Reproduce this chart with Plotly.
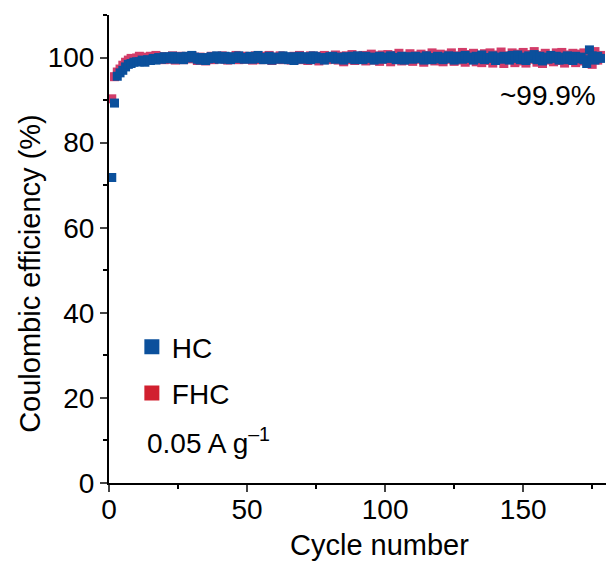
import plotly.graph_objects as go

cycles = list(range(1, 179))

hc = [
    71.8, 89.3, 95.6, 96.4, 97.0, 97.8, 98.4, 98.6, 98.9, 99.0,
    99.0, 99.4, 98.9, 99.5, 99.3, 99.8, 99.4, 100.0, 99.6, 100.2,
    99.7, 100.1, 100.3, 99.6, 99.8, 100.2, 99.5, 100.3, 99.9, 100.5,
    100.1, 99.6, 99.4, 100.0, 99.3, 99.7, 100.2, 99.8, 100.4, 99.6,
    99.9, 100.3, 99.6, 99.5, 100.2, 99.8, 100.4, 100.0, 99.6, 99.9,
    100.3, 99.6, 99.8, 100.5, 100.0, 99.5, 99.9, 100.3, 99.4, 99.8,
    100.1, 99.6, 100.4, 99.8, 99.5, 100.2, 99.3, 99.9, 100.3, 99.6,
    99.8, 100.2, 99.5, 100.4, 100.2, 99.7, 100.0, 99.4, 99.9, 100.2,
    100.3, 99.6, 99.8, 100.1, 99.4, 100.2, 99.8, 100.3, 99.5, 100.4,
    100.0, 99.5, 100.3, 99.8, 100.1, 99.4, 99.9, 100.3, 99.6, 100.1,
    99.8, 100.4, 100.0, 99.5, 99.9, 100.3, 99.4, 99.8, 100.2, 99.6,
    100.3, 99.8, 100.1, 99.4, 100.4, 99.8, 99.5, 100.0, 100.3, 99.7,
    99.5, 100.1, 100.4, 99.8, 99.4, 100.3, 100.0, 99.6, 100.5, 99.8,
    100.1, 99.4, 100.3, 99.7, 100.6, 99.5, 100.0, 99.8, 100.4, 99.3,
    100.1, 99.6, 100.3, 99.8, 99.4, 100.5, 99.8, 100.6, 99.5, 100.1,
    99.3, 100.4, 99.8, 100.7, 99.5, 100.3, 99.2, 100.1, 99.6, 100.5,
    99.8, 100.3, 99.4, 100.1, 99.5, 100.4, 99.8, 99.3, 100.3, 99.7,
    100.1, 99.5, 98.6, 101.8, 100.4, 99.4, 100.3, 99.8,
]

fhc = [
    90.3, 95.5, 96.6, 97.3, 98.2, 98.9, 99.4, 99.8, 99.5, 99.9,
    100.3, 99.5, 100.1, 99.4, 100.3, 99.7, 100.5, 99.8, 100.2, 99.5,
    100.1, 99.6, 100.4, 99.4, 99.9, 100.3, 99.5, 100.1, 99.7, 100.4,
    99.8, 99.3, 100.1, 99.6, 99.2, 99.9, 100.3, 99.5, 100.1, 99.8,
    100.4, 99.6, 99.4, 100.1, 99.8, 100.5, 99.5, 99.9, 100.3, 99.6,
    100.1, 99.4, 100.4, 99.8, 99.5, 100.3, 99.6, 100.5, 99.3, 100.1,
    99.6, 100.4, 99.5, 100.1, 99.8, 99.4, 100.3, 99.6, 100.5, 99.5,
    100.1, 99.3, 100.4, 99.6, 100.3, 99.2, 99.9, 100.5, 99.5, 100.1,
    99.6, 100.6, 99.4, 100.3, 99.0, 100.4, 99.5, 100.7, 99.3, 100.3,
    99.6, 100.5, 99.2, 100.1, 100.8, 99.4, 100.4, 99.1, 100.6, 99.6,
    100.7, 99.0, 100.5, 99.5, 101.0, 99.2, 100.3, 99.4, 100.9, 99.1,
    100.4, 99.6, 100.8, 98.9, 100.5, 99.5, 101.1, 99.2, 100.2, 100.8,
    99.0, 100.6, 99.6, 101.1, 99.1, 100.4, 99.4, 101.2, 98.9, 100.7,
    99.5, 101.0, 99.0, 100.5, 98.8, 100.9, 99.3, 101.1, 98.7, 100.6,
    99.4, 101.3, 98.6, 100.4, 99.5, 101.1, 98.8, 100.8, 99.2, 101.2,
    98.7, 100.7, 99.6, 101.4, 98.9, 100.5, 98.6, 101.0, 99.4, 100.3,
    99.0, 101.1, 99.3, 101.2, 98.7, 100.6, 99.5, 101.0, 98.8, 100.8,
    99.2, 101.1, 99.1, 100.9, 98.4, 101.4, 99.4, 100.5,
]

series_names = ["HC", "FHC"]
marker_colors = ["#0b509c", "#d23c69"]
legend_colors = ["#0b509c", "#d1202f"]

FONT = "Liberation Sans, Arial, sans-serif"

fig = go.Figure()
# FHC below, HC on top
fig.add_trace(go.Scatter(x=cycles, y=fhc, mode="markers", showlegend=False,
                         marker=dict(symbol="square", size=9, color=marker_colors[1])))
fig.add_trace(go.Scatter(x=cycles, y=hc, mode="markers", showlegend=False,
                         marker=dict(symbol="square", size=9, color=marker_colors[0])))
# legend entries
for i, name in enumerate(series_names):
    fig.add_trace(go.Scatter(x=[None], y=[None], mode="markers", name=name,
                             legendgroup=name,
                             marker=dict(symbol="square", size=15, color=legend_colors[i])))

fig.update_layout(
    width=610, height=563,
    margin=dict(l=109, r=4, t=15, b=80),
    paper_bgcolor="white", plot_bgcolor="white",
    font=dict(family=FONT, size=28, color="black"),
    showlegend=True,
    legend=dict(x=0.046, y=0.344, xanchor="left", yanchor="top",
                bgcolor="rgba(0,0,0,0)", font=dict(size=28),
                tracegroupgap=7, traceorder="grouped"),
    xaxis=dict(range=[0, 180], dtick=50, tick0=0, ticks="outside", ticklen=7, tickwidth=2,
               showline=True, linewidth=2, linecolor="black", showgrid=False, zeroline=False,
               minor=dict(dtick=25, ticks="outside", ticklen=4, tickwidth=2, tickcolor="black"),
               tickfont=dict(size=28), ticklabelstandoff=-7),
    yaxis=dict(range=[0, 110], dtick=20, tick0=0, ticks="outside", ticklen=7, tickwidth=2,
               showline=True, linewidth=2, linecolor="black", showgrid=False, zeroline=False,
               minor=dict(dtick=10, ticks="outside", ticklen=4, tickwidth=2, tickcolor="black"),
               tickfont=dict(size=28)),
    annotations=[
        dict(text="Cycle number", xref="paper", yref="paper", x=0.544, y=-0.132,
             xanchor="center", yanchor="middle", showarrow=False, font=dict(size=29)),
        dict(text="Coulombic efficiency (%)", xref="paper", yref="paper", x=-0.159, y=0.449,
             xanchor="center", yanchor="middle", textangle=-90, showarrow=False, font=dict(size=29)),
        dict(text="~99.9%", xref="paper", yref="paper", x=0.984, y=0.827,
             xanchor="right", yanchor="middle", showarrow=False, font=dict(size=28)),
        dict(text="0.05 A g<sup>–1</sup>", xref="paper", yref="paper", x=0.072, y=0.0897,
             xanchor="left", yanchor="middle", showarrow=False, font=dict(size=28)),
    ],
)

fig.write_html("out.html")
